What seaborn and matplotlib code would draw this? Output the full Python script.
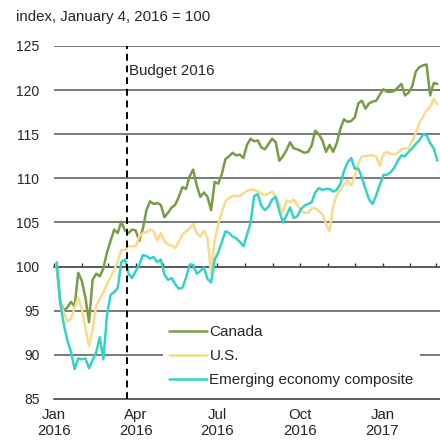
import pandas as pd
import numpy as np
import matplotlib
matplotlib.use('Agg')
import matplotlib.pyplot as plt
import matplotlib.dates as mdates
import seaborn as sns

# observation dates (every 4 days from Jan 4, 2016)
dates = pd.date_range('2016-01-04', periods=107, freq='4D')

canada = [100, 96.0, 95.0, 95.4, 96, 95.5, 99.3, 98.4, 96.5, 93.7,
          98.5, 99.2, 98.9, 99.8, 101.6, 102.9, 104.2, 103.8, 105.1, 104.1,
          103.8, 104.2, 104.1, 102.9, 104.3, 106.4, 107.4, 107.1, 107.2, 107.0,
          105.6, 106.1, 106.7, 107, 107.9, 109, 108.8, 110.2, 111, 109.2,
          107.9, 108.4, 107.9, 106.4, 109.6, 109.4, 110.5, 112.2, 112.5, 112.9,
          112.6, 112.7, 112.3, 113.8, 114.5, 114.2, 114.3, 113.5, 113.3, 113.9,
          114.5, 114.1, 112, 112.5, 113.2, 114.1, 113.4, 113.3, 113.1, 112.9,
          113, 113.7, 115.4, 115, 114.3, 113, 113.8, 113.0, 114, 115.6,
          116.7, 116.4, 116.5, 116.9, 118.5, 118.8, 117.9, 118.5, 118.7, 118.8,
          119.5, 120.1, 119.8, 119.8, 119.9, 120.3, 120.7, 119.4, 119.7, 120.4,
          122.1, 122.6, 122.8, 122.9, 119.4, 120.8, 120.7]

us = [100, 95.8, 94.8, 93.8, 94.1, 95.3, 96.5, 95.2, 93, 91,
      92.8, 95.6, 96.3, 97.1, 98, 98.8, 99.6, 100.6, 101.9, 101.9,
      102.3, 102.3, 102.3, 103.4, 103.8, 103.9, 104.2, 104, 103, 103.8,
      102.9, 102.5, 102.4, 102.1, 102.8, 103.6, 104, 104.3, 104.8, 103.8,
      103.4, 104.1, 103.2, 99.2, 103, 104.8, 106.2, 107.4, 107.8, 108,
      108, 108, 108.3, 108.6, 108.7, 108.7, 108.5, 108.3, 108.1, 108.3,
      108.5, 108, 107, 106.1, 107.5, 107.3, 107.6, 107, 106.4, 106.1,
      106.1, 106.6, 106.6, 106.3, 105.9, 104.8, 104, 106.9, 108.1, 108.7,
      109.3, 109.8, 109.2, 110.2, 111.7, 112.5, 112.5, 112.6, 112.6, 112.5,
      111.4, 112.8, 113, 112.8, 112.7, 112.9, 113.3, 113.4, 113.4, 114.2,
      115.1, 116.3, 117, 117.7, 118.1, 119, 118.4]

emerging = [100.5, 95.8, 93.4, 91.6, 90.3, 88.4, 89.6, 89.5, 89.6, 88.5,
            89.4, 90.3, 92, 89.5, 94.5, 96.8, 97.1, 97.6, 100.5, 100.8,
            99.2, 98.7, 99.5, 100.2, 101.3, 101.2, 100.9, 101.1, 100.5, 100.8,
            99.1, 98.5, 98.7, 98, 97.5, 97.6, 98.7, 100.2, 100.2, 99.2,
            99.5, 99.9, 98.6, 98.2, 100.8, 101.6, 102.8, 104, 103.8, 103.4,
            103.2, 102.8, 102.3, 103.6, 105, 108, 108.2, 106.9, 106.4, 106.8,
            107.6, 107.9, 106.3, 105, 105.8, 106.7, 105.5, 105.7, 106.5, 106.9,
            107.1, 107.3, 108.4, 108.9, 108.7, 108.8, 108.8, 108.5, 108.7, 109.4,
            110.8, 111.8, 112.3, 111.1, 111.1, 110.1, 108.8, 107.6, 107.1, 108.1,
            109.3, 110.4, 110.4, 110.7, 111.2, 112, 112.6, 112.5, 113, 113.4,
            113.9, 114.3, 115, 114.9, 114, 113.4, 112]

series_names = ['Canada', 'U.S.', 'Emerging economy composite']
series_colors = ['#7a9c47', '#f8dc8b', '#33d3ca']

budget_date = pd.Timestamp('2016-03-22')
quarter_ticks = pd.to_datetime(['2016-01-01', '2016-04-01', '2016-07-01',
                                '2016-10-01', '2017-01-01'])
quarter_labels = ['Jan\n2016', 'Apr\n2016', 'Jul\n2016', 'Oct\n2016', 'Jan\n2017']
y_ticks = [85, 90, 95, 100, 105, 110, 115, 120, 125]

sns.set_style('white')
plt.rcParams['font.family'] = ['Liberation Sans', 'DejaVu Sans']
plt.rcParams['font.size'] = 10.8

df = pd.DataFrame({
    'date': np.tile(dates, 3),
    'value': canada + us + emerging,
    'series': np.repeat(series_names, len(dates)),
})

fig = plt.figure(figsize=(4.4, 4.43), dpi=100)
ax = fig.add_axes([54 / 440, 1 - 399 / 443, 386 / 440, 353 / 443])

# horizontal rules
for y in y_ticks[1:]:
    ax.axhline(y, color='#555555', lw=1.1, zorder=1)

sns.lineplot(data=df, x='date', y='value', hue='series', hue_order=series_names,
             palette=series_colors, lw=1.8, ax=ax, zorder=3)

ax.axvline(budget_date, color='black', lw=1.4, ls=(0, (3.5, 2.5)), zorder=4)
ax.annotate('Budget 2016', xy=(budget_date, 121.7), xytext=(2, 0),
            textcoords='offset points', va='baseline', ha='left')

ax.set_xlim(pd.Timestamp('2016-01-02'), pd.Timestamp('2017-03-06'))
ax.set_ylim(85, 125)
ax.set_yticks(y_ticks)
ax.set_xticks(quarter_ticks)
ax.set_xticklabels(quarter_labels)
ax.set_xlabel('')
ax.set_ylabel('')
ax.tick_params(axis='y', length=0, pad=10.5, labelsize=10)
ax.tick_params(axis='x', length=0, pad=6.5, labelsize=10.8)
for s in ['top', 'right', 'left']:
    ax.spines[s].set_visible(False)
ax.spines['bottom'].set_color('#333333')
ax.spines['bottom'].set_linewidth(1.1)

# monthly ticks sitting on the 100 line
sec = ax.secondary_xaxis((100 - 85) / (125 - 85))
sec.xaxis.set_major_locator(mdates.MonthLocator())
sec.tick_params(direction='in', length=3, color='#333333', width=1, labelbottom=False)
sec.spines['bottom'].set_color('#777777')
sec.spines['bottom'].set_linewidth(1.4)

handles, labels = ax.get_legend_handles_labels()
leg = ax.legend(handles, labels, loc='upper left', bbox_to_anchor=(0.282, 0.226),
                borderaxespad=0, frameon=True, facecolor='white', edgecolor='none',
                framealpha=1, handlelength=2.5, handletextpad=0.15, fontsize=11,
                labelspacing=0.66, borderpad=0.4, fancybox=False)
leg.set_zorder(5)

fig.text(16 / 440, 1 - 17 / 443, 'index, January 4, 2016 = 100', va='center', ha='left')

fig.savefig('out.png', dpi=100)
